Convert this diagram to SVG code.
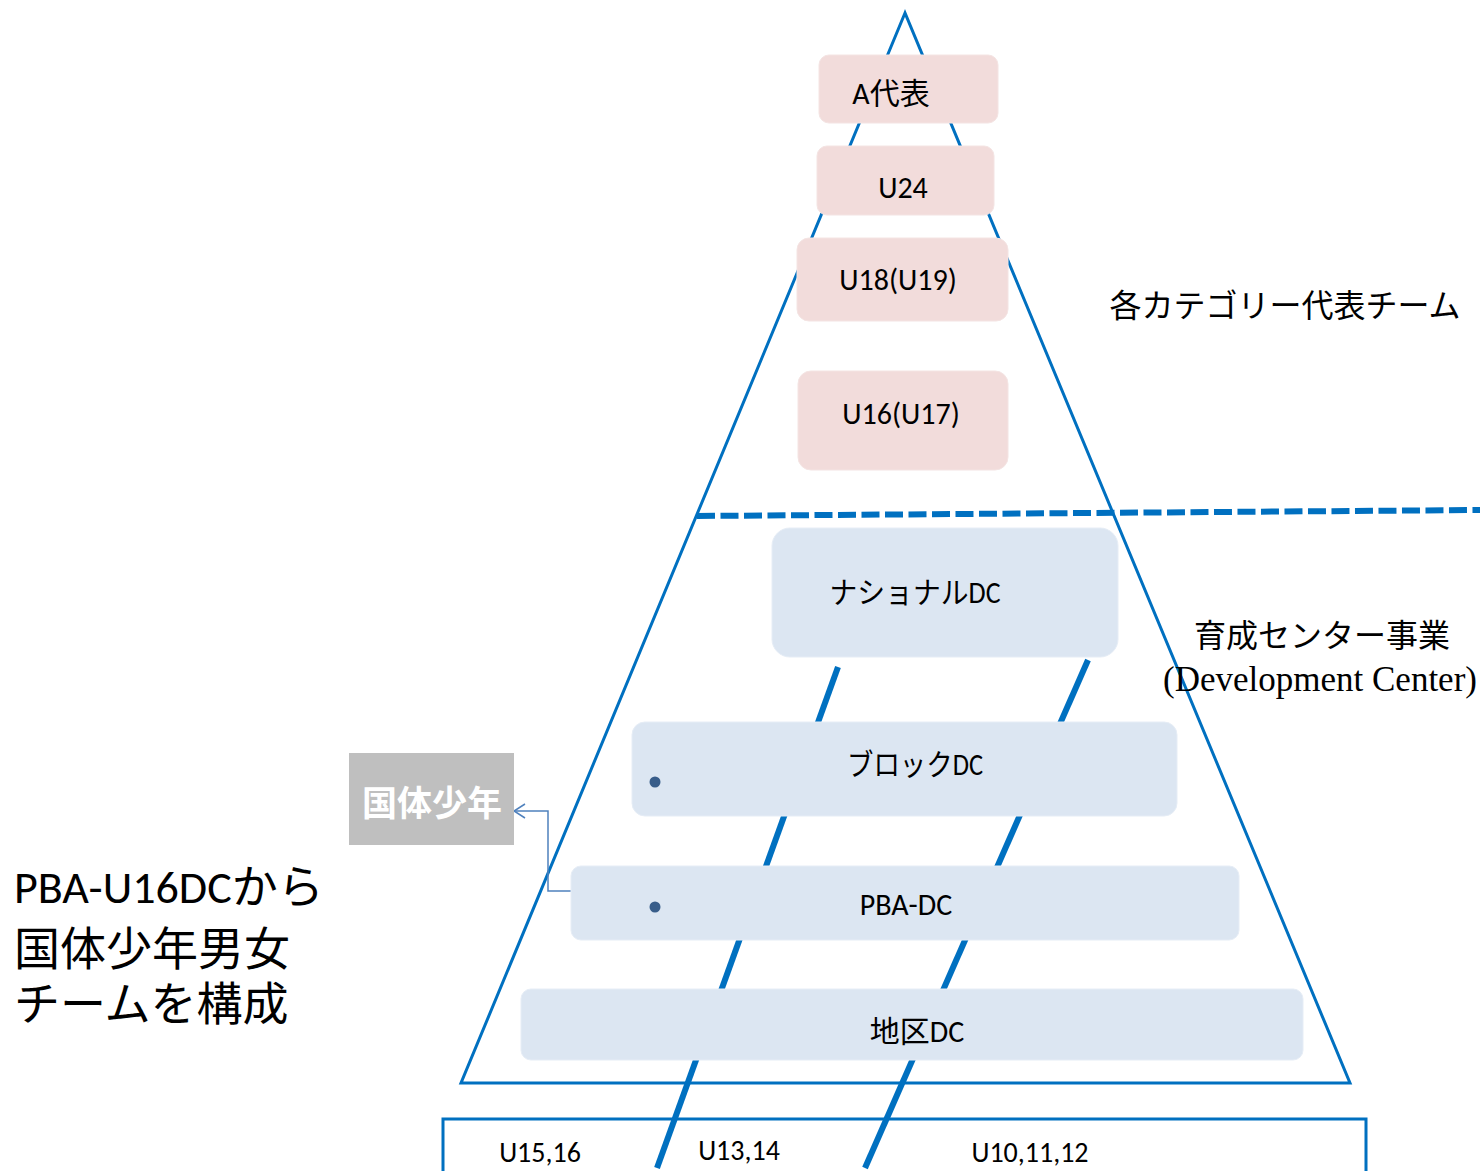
<svg xmlns="http://www.w3.org/2000/svg" width="1480" height="1171" viewBox="0 0 1480 1171">
<style>
.edge{fill:none;stroke:#0070C0;stroke-width:3}
.thick{fill:none;stroke:#0070C0;stroke-width:6}
.pink{fill:#F2DCDB;stroke:#F4E4E3;stroke-width:1}
.blue{fill:#DCE6F2;stroke:#E6EDF6;stroke-width:1}
.t{font-family:Carlito,Lato,"Noto Sans CJK JP",sans-serif;fill:#000;text-anchor:middle}
.j{font-family:"Noto Sans CJK JP",sans-serif;fill:#000}
.bul{fill:#385D8A}
.conn{fill:none;stroke:#4F81BD;stroke-width:1.5}
</style>
<defs>
<marker id="arr" markerWidth="14" markerHeight="16" refX="12" refY="8" orient="auto" markerUnits="userSpaceOnUse">
<path d="M1,1 L12,8 L1,15" fill="none" stroke="#4F81BD" stroke-width="1.5"/>
</marker>
</defs>
<g id="frame">
<polygon class="edge" points="905,13 461,1083 1350,1083"/>
<line x1="697" y1="516" x2="1480" y2="510" stroke="#0070C0" stroke-width="6" stroke-dasharray="18,5.5"/>
<line class="thick" x1="838" y1="667" x2="657" y2="1168"/>
<line class="thick" x1="1088" y1="660" x2="865" y2="1168"/>
<polyline class="edge" points="443,1171 443,1119 1366,1119 1366,1171"/>
</g>
<g id="connectors">
<polyline class="conn" points="586,891 548,891 548,811 514,811" marker-end="url(#arr)"/>
</g>
<g id="node-a"><rect class="pink" x="819" y="55" width="179" height="68" rx="10"/><text class="t" x="891" y="104" font-size="30">A代表</text></g>
<g id="node-u24"><rect class="pink" x="817" y="146" width="177" height="69" rx="10"/><text class="t" x="903" y="198" font-size="30">U24</text></g>
<g id="node-u18"><rect class="pink" x="797" y="238" width="211" height="83" rx="12"/><text class="t" x="898" y="290" font-size="30">U18(U19)</text></g>
<g id="node-u16"><rect class="pink" x="798" y="371" width="210" height="99" rx="13"/><text class="t" x="901" y="424" font-size="30">U16(U17)</text></g>
<g id="node-national"><rect class="blue" x="772" y="528" width="346" height="129" rx="18"/><text class="t" x="915" y="603" font-size="30" textLength="171" lengthAdjust="spacingAndGlyphs">ナショナルDC</text></g>
<g id="node-block"><rect class="blue" x="632" y="722" width="545" height="94" rx="13"/><circle class="bul" cx="655" cy="782" r="5.5"/><text class="t" x="915" y="775" font-size="30" textLength="136" lengthAdjust="spacingAndGlyphs">ブロックDC</text></g>
<g id="node-pba"><rect class="blue" x="571" y="866" width="668" height="74" rx="10"/><circle class="bul" cx="655" cy="907" r="5.5"/><text class="t" x="906" y="915" font-size="30">PBA-DC</text></g>
<g id="node-chiku"><rect class="blue" x="521" y="989" width="782" height="71" rx="10"/><text class="t" x="917" y="1042" font-size="30">地区DC</text></g>
<g id="node-kokutai"><rect x="349" y="753" width="165" height="92" fill="#BFBFBF"/><text x="432" y="816" font-family="'Noto Sans CJK JP',sans-serif" font-weight="bold" font-size="35" fill="#FFFFFF" text-anchor="middle">国体少年</text></g>
<g id="label-category"><text class="j" x="1285" y="317" font-size="32" text-anchor="middle">各カテゴリー代表チーム</text></g>
<g id="label-dc"><text class="j" x="1322" y="647" font-size="32" text-anchor="middle">育成センター事業</text><text x="1320" y="691" font-family="'Liberation Serif',serif" font-size="35" text-anchor="middle" fill="#000">(Development Center)</text></g>
<g id="label-pba"><text font-family="Carlito,Lato,'Noto Sans CJK JP',sans-serif" font-size="46" fill="#000"><tspan x="14" y="903">PBA-U16DCから</tspan><tspan x="14" y="965">国体少年男女</tspan><tspan x="14" y="1020">チームを構成</tspan></text></g>
<g id="label-ages"><text class="t" x="540" y="1162" font-size="28">U15,16</text><text class="t" x="739" y="1160" font-size="28">U13,14</text><text class="t" x="1030" y="1162" font-size="28">U10,11,12</text></g>
</svg>
